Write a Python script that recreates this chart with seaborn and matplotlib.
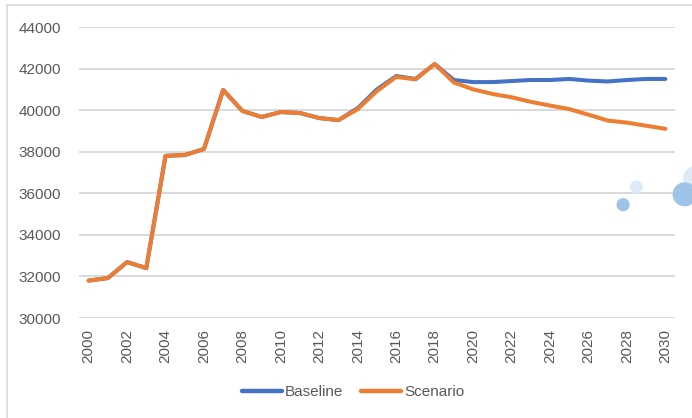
import matplotlib
matplotlib.use("Agg")
import matplotlib.pyplot as plt
from matplotlib.patches import Rectangle
import numpy as np
import pandas as pd
import seaborn as sns

years = list(range(2000, 2031))
baseline = [31800, 31920, 32690, 32400, 37800, 37840, 38130, 40970, 39960, 39670,
            39910, 39860, 39620, 39520, 40100, 41000, 41640, 41500, 42220, 41450,
            41350, 41350, 41400, 41450, 41450, 41500, 41420, 41380, 41450, 41500,
            41500]
scenario = [31800, 31920, 32690, 32400, 37800, 37840, 38130, 40970, 39960, 39670,
            39910, 39860, 39620, 39520, 40050, 40920, 41600, 41480, 42220, 41330,
            41000, 40780, 40620, 40400, 40220, 40050, 39780, 39500, 39400, 39250,
            39100]
series_names = ["Baseline", "Scenario"]
y_ticks = [30000, 32000, 34000, 36000, 38000, 40000, 42000, 44000]
x_ticks = list(range(2000, 2031, 2))

# stray bubble series near the right edge
bubble_x = [2031.55, 2027.8, 2028.5, 2031.0]
bubble_y = [36730, 35450, 36300, 35950]
bubble_size = [300, 90, 90, 300]
bubble_color = ["#DEEBF7", "#9DC3E6", "#DEEBF7", "#9DC3E6"]

df = pd.DataFrame({
    "year": years * 2,
    "value": baseline + scenario,
    "series": [series_names[0]] * len(years) + [series_names[1]] * len(years),
})

sns.set_theme(style="white")
plt.rcParams["font.family"] = ["Liberation Sans", "DejaVu Sans"]
text_color = "#595959"
grid_color = "#D9D9D9"

W, H = 692, 418
fig = plt.figure(figsize=(W / 100, H / 100), dpi=100)
ax = fig.add_axes([79 / W, 1 - 318 / H, 596 / W, 291 / H])

for yt in y_ticks:
    ax.axhline(yt, color=grid_color, lw=1.4, zorder=0)

sns.lineplot(data=df, x="year", y="value", hue="series", hue_order=series_names,
             palette={"Baseline": "#4472C4", "Scenario": "#ED7D31"},
             linewidth=2.9, ax=ax, legend=True, zorder=3)
for ln in ax.get_lines():
    ln.set_solid_capstyle("round")
    ln.set_solid_joinstyle("round")

ax.scatter(bubble_x, bubble_y, s=bubble_size, c=bubble_color, linewidths=0,
           clip_on=False, zorder=4)

ax.set_xlim(1999.5, 2030.5)
ax.set_ylim(30000, 44000)
ax.set_yticks(y_ticks)
ax.set_yticklabels([str(v) for v in y_ticks])
ax.set_xticks(x_ticks)
ax.set_xticklabels([str(v) for v in x_ticks], rotation=90)
ax.tick_params(axis="y", length=0, pad=13, labelsize=11, labelcolor=text_color)
ax.tick_params(axis="x", length=0, pad=8, labelsize=11, labelcolor=text_color)
ax.set_xlabel("")
ax.set_ylabel("")
for s in ax.spines.values():
    s.set_visible(False)

handles, labels = ax.get_legend_handles_labels()
ax.get_legend().remove()
for h in handles:
    h.set_linewidth(3.2)
fig.legend(handles, labels, loc="center", bbox_to_anchor=(353 / W, 1 - 392 / H),
           ncol=2, frameon=False, fontsize=11, labelcolor=text_color,
           handlelength=2.6, handletextpad=0.2, columnspacing=1.2)

# chart area border (top and left edges visible)
fig.add_artist(Rectangle((7 / W, -0.2), 1.5, 1.2 - 5 / H + 0.0, transform=fig.transFigure,
                         fill=False, edgecolor=grid_color, lw=1.2))

fig.savefig("out.png", dpi=100, facecolor="white")
